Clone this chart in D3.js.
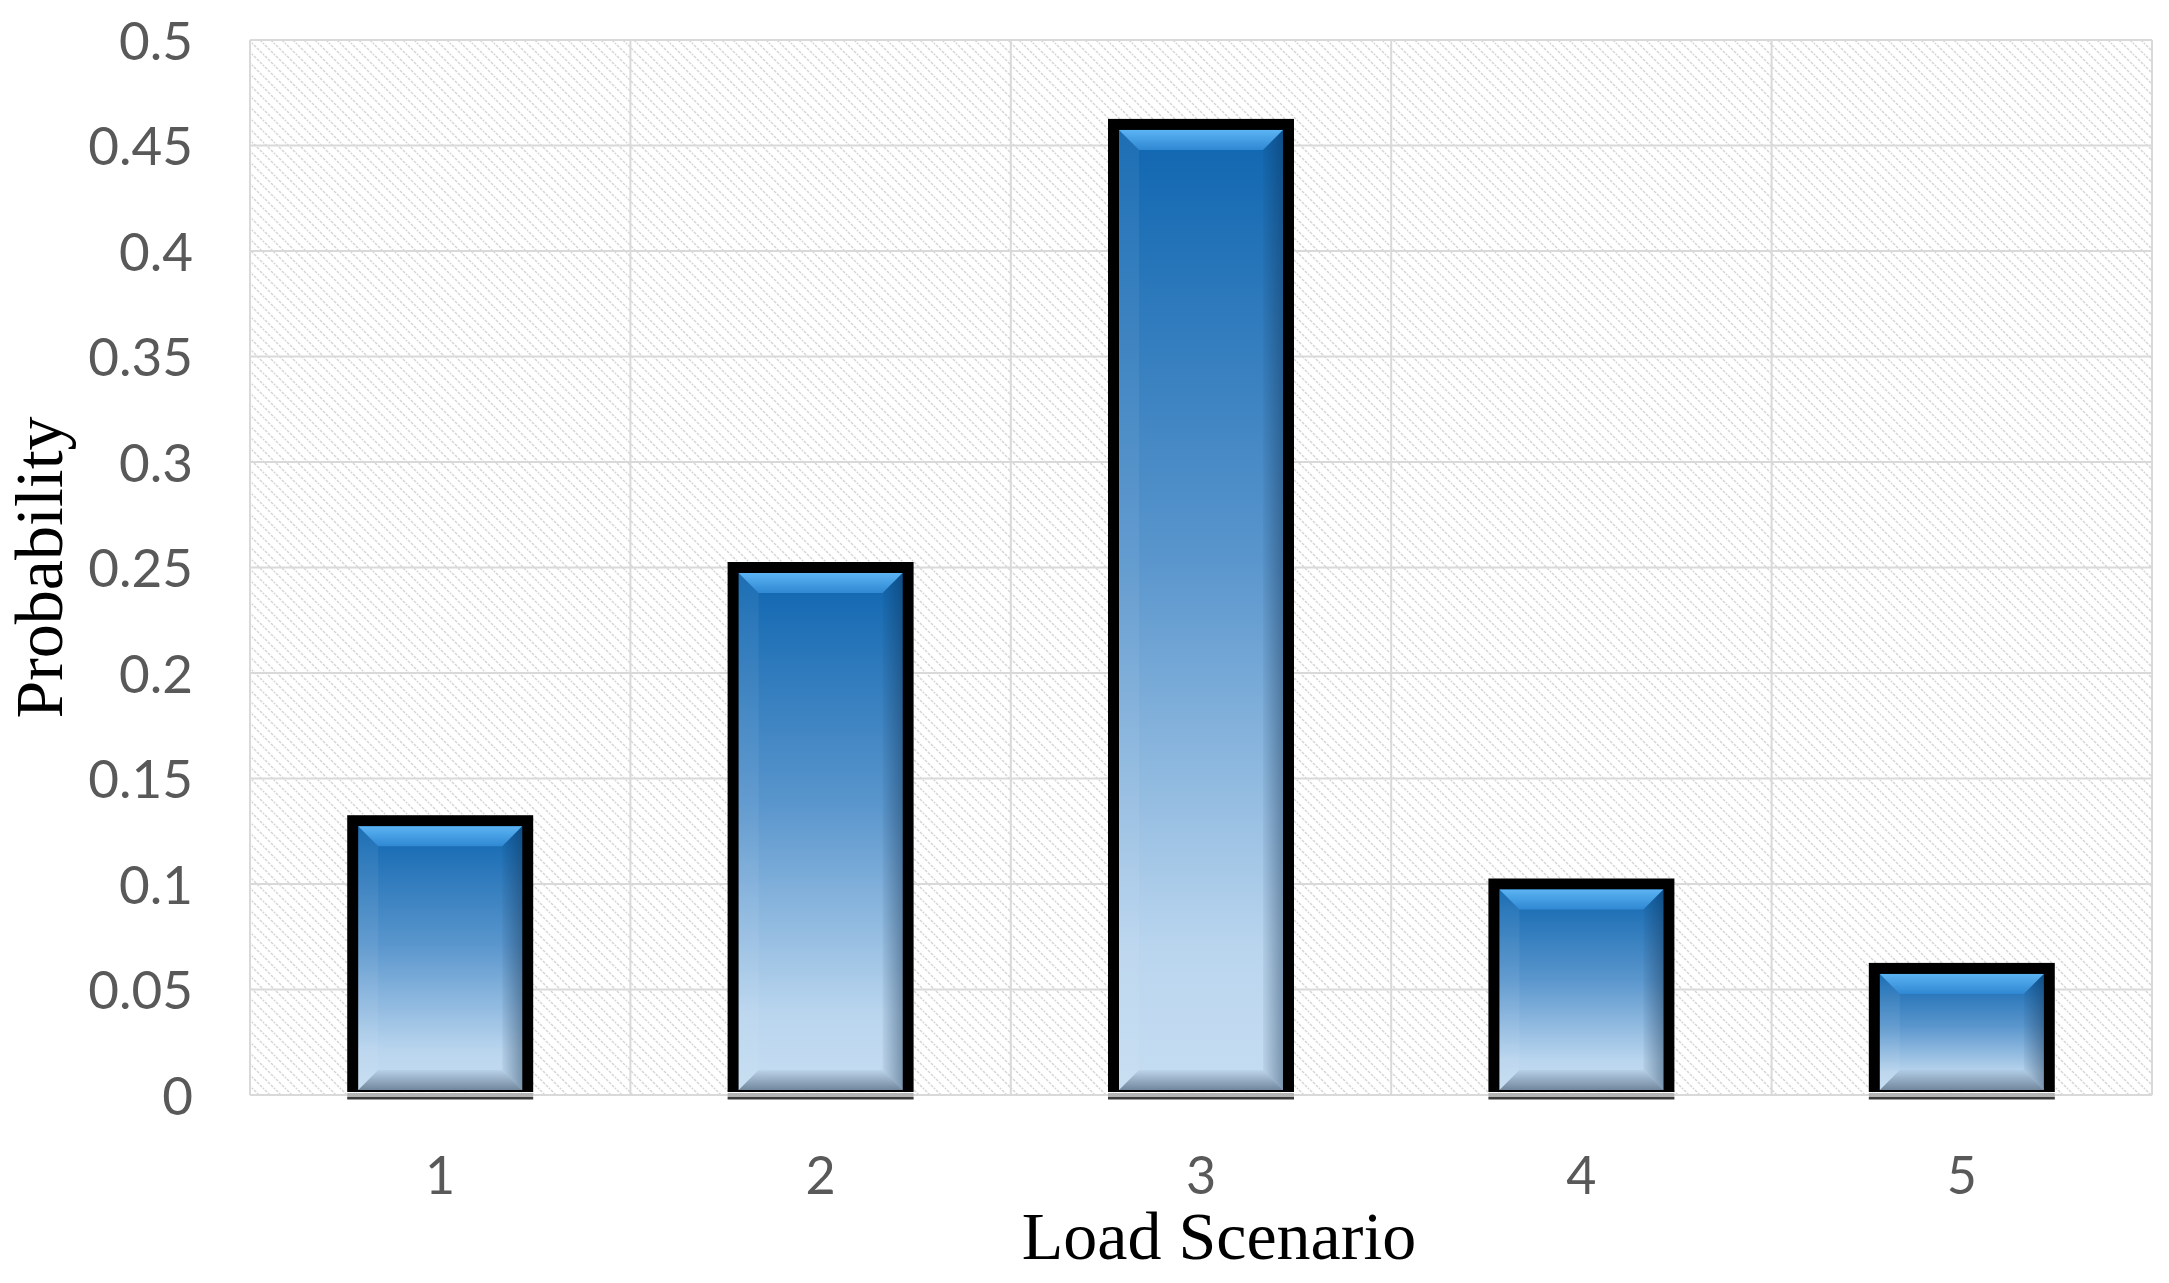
<!DOCTYPE html>
<html>
<head>
<meta charset="utf-8">
<script src="https://cdn.jsdelivr.net/npm/d3@7"></script>
<style>
    body { margin: 0; background: #ffffff; }
    svg { display: block; }
</style>
</head>
<body>
<div id="chart"></div>
<script>
// chart data
const categories = ["1", "2", "3", "4", "5"];
const probabilities = [0.13, 0.25, 0.46, 0.10, 0.06];
const yTickValues = [0, 0.05, 0.1, 0.15, 0.2, 0.25, 0.3, 0.35, 0.4, 0.45, 0.5];
const yTickLabels = ["0", "0.05", "0.1", "0.15", "0.2", "0.25", "0.3", "0.35", "0.4", "0.45", "0.5"];
const xTitle = "Load Scenario";
const yTitle = "Probability";

const width = 2169;
const height = 1283;
const plot = { left: 250, right: 2152, top: 40, bottom: 1095 };

const svg = d3.select("#chart")
    .append("svg")
    .attr("width", width)
    .attr("height", height);

const defs = svg.append("defs");

// hatched background of the plot area
const hatch = defs.append("pattern")
    .attr("id", "hatch")
    .attr("patternUnits", "userSpaceOnUse")
    .attr("width", 11)
    .attr("height", 11);
hatch.append("rect").attr("width", 11).attr("height", 11).attr("fill", "#ffffff");
hatch.append("path")
    .attr("d", "M-2,-2 L13,13 M-2,9 L2,13 M9,-2 L13,2")
    .attr("stroke", "#d6d6d6")
    .attr("stroke-width", 1.5)
    .attr("stroke-dasharray", "3,1.2");

// bar body gradient
const bodyGrad = defs.append("linearGradient")
    .attr("id", "barBody")
    .attr("x1", 0).attr("y1", 0).attr("x2", 0).attr("y2", 1);
bodyGrad.append("stop").attr("offset", "0%").attr("stop-color", "#0f66b0");
bodyGrad.append("stop").attr("offset", "45%").attr("stop-color", "#5a96cd");
bodyGrad.append("stop").attr("offset", "85%").attr("stop-color", "#b9d5ee");
bodyGrad.append("stop").attr("offset", "100%").attr("stop-color", "#c6ddf2");

const topGrad = defs.append("linearGradient")
    .attr("id", "bevelTop")
    .attr("x1", 0).attr("y1", 0).attr("x2", 0).attr("y2", 1);
topGrad.append("stop").attr("offset", "0%").attr("stop-color", "#5cb4f4");
topGrad.append("stop").attr("offset", "100%").attr("stop-color", "#2f88d2");

const rightGrad = defs.append("linearGradient")
    .attr("id", "bevelRight")
    .attr("x1", 0).attr("y1", 0).attr("x2", 1).attr("y2", 0);
rightGrad.append("stop").attr("offset", "0%").attr("stop-color", "#0a2a4a").attr("stop-opacity", 0.05);
rightGrad.append("stop").attr("offset", "100%").attr("stop-color", "#0a2a4a").attr("stop-opacity", 0.4);

const bottomGrad = defs.append("linearGradient")
    .attr("id", "bevelBottom")
    .attr("x1", 0).attr("y1", 0).attr("x2", 0).attr("y2", 1);
bottomGrad.append("stop").attr("offset", "0%").attr("stop-color", "#2a4058").attr("stop-opacity", 0.05);
bottomGrad.append("stop").attr("offset", "100%").attr("stop-color", "#2a4058").attr("stop-opacity", 0.55);

// scales
const x = d3.scaleBand()
    .domain(categories)
    .range([plot.left, plot.right])
    .paddingInner(0.54)
    .paddingOuter(0.27);

const y = d3.scaleLinear()
    .domain([0, 0.5])
    .range([plot.bottom, plot.top]);

// plot area
svg.append("rect")
    .attr("x", plot.left)
    .attr("y", plot.top)
    .attr("width", plot.right - plot.left)
    .attr("height", plot.bottom - plot.top)
    .attr("fill", "url(#hatch)");

// horizontal gridlines
svg.append("g")
    .selectAll("line")
    .data(yTickValues)
    .enter()
    .append("line")
    .attr("x1", plot.left)
    .attr("x2", plot.right)
    .attr("y1", d => y(d))
    .attr("y2", d => y(d))
    .attr("stroke", "#d9d9d9")
    .attr("stroke-width", 2);

// vertical gridlines at category boundaries
const boundaries = categories.map(c => x(c) + x.bandwidth() / 2 - x.step() / 2);
boundaries.push(plot.right);
svg.append("g")
    .selectAll("line")
    .data(boundaries)
    .enter()
    .append("line")
    .attr("x1", d => d)
    .attr("x2", d => d)
    .attr("y1", plot.top)
    .attr("y2", plot.bottom)
    .attr("stroke", "#d9d9d9")
    .attr("stroke-width", 2);

// bars
const bw = x.bandwidth();
const border = 5.5;
const bevel = 20;

const bars = svg.append("g")
    .selectAll("g")
    .data(categories.map((c, i) => ({ cat: c, value: probabilities[i] })))
    .enter()
    .append("g");

// black outline
bars.append("rect")
    .attr("x", d => x(d.cat) - border)
    .attr("y", d => y(d.value) - border)
    .attr("width", bw + 2 * border)
    .attr("height", d => y(0) - 3 - (y(d.value) - border))
    .attr("fill", "#000000");

// shadow line under the bar
bars.append("rect")
    .attr("x", d => x(d.cat) - border)
    .attr("y", y(0) - 2)
    .attr("width", bw + 2 * border)
    .attr("height", 4)
    .attr("fill", "#b4b4b4");
bars.append("rect")
    .attr("x", d => x(d.cat) - border)
    .attr("y", y(0) + 2)
    .attr("width", bw + 2 * border)
    .attr("height", 2.5)
    .attr("fill", "#3a3a3a");

// body
function inner(d) {
    const x0 = x(d.cat) + border;
    const x1 = x(d.cat) + bw - border;
    const y0 = y(d.value) + border;
    const y1 = y(0) - 5;
    return { x0, x1, y0, y1 };
}

bars.append("rect")
    .attr("x", d => inner(d).x0)
    .attr("y", d => inner(d).y0)
    .attr("width", d => inner(d).x1 - inner(d).x0)
    .attr("height", d => inner(d).y1 - inner(d).y0)
    .attr("fill", "url(#barBody)");

// bevel edges
bars.append("path")
    .attr("d", d => {
        const r = inner(d);
        return `M${r.x0},${r.y0} L${r.x1},${r.y0} L${r.x1 - bevel},${r.y0 + bevel} L${r.x0 + bevel},${r.y0 + bevel} Z`;
    })
    .attr("fill", "url(#bevelTop)");

bars.append("path")
    .attr("d", d => {
        const r = inner(d);
        return `M${r.x1},${r.y0} L${r.x1},${r.y1} L${r.x1 - bevel},${r.y1 - bevel} L${r.x1 - bevel},${r.y0 + bevel} Z`;
    })
    .attr("fill", "url(#bevelRight)");

bars.append("path")
    .attr("d", d => {
        const r = inner(d);
        return `M${r.x0},${r.y0} L${r.x0},${r.y1} L${r.x0 + bevel},${r.y1 - bevel} L${r.x0 + bevel},${r.y0 + bevel} Z`;
    })
    .attr("fill", "#ffffff")
    .attr("fill-opacity", 0.06);

bars.append("path")
    .attr("d", d => {
        const r = inner(d);
        return `M${r.x0},${r.y1} L${r.x1},${r.y1} L${r.x1 - bevel},${r.y1 - bevel} L${r.x0 + bevel},${r.y1 - bevel} Z`;
    })
    .attr("fill", "url(#bevelBottom)");

// y axis labels
const yAxis = svg.append("g")
    .attr("transform", `translate(${plot.left},0)`)
    .call(d3.axisLeft(y)
        .tickValues(yTickValues)
        .tickFormat((d, i) => yTickLabels[i])
        .tickSize(0)
        .tickPadding(57));
yAxis.select(".domain").remove();
yAxis.selectAll("text")
    .attr("dy", "0.36em")
    .style("font-family", "Lato, 'Open Sans', sans-serif")
    .style("font-size", "53px")
    .style("fill", "#595959");

// x axis labels
const xAxis = svg.append("g")
    .attr("transform", `translate(0,${plot.bottom})`)
    .call(d3.axisBottom(x).tickSize(0));
xAxis.select(".domain").remove();
xAxis.selectAll("text")
    .attr("y", 99)
    .attr("dy", 0)
    .style("font-family", "Lato, 'Open Sans', sans-serif")
    .style("font-size", "52px")
    .style("fill", "#595959");

// axis titles
svg.append("text")
    .attr("x", 1219)
    .attr("y", 1259)
    .attr("text-anchor", "middle")
    .style("font-family", "'Liberation Serif', 'Times New Roman', serif")
    .style("font-size", "68px")
    .style("fill", "#000000")
    .text(xTitle);

svg.append("text")
    .attr("transform", `translate(62,${(plot.top + plot.bottom) / 2}) rotate(-90)`)
    .attr("text-anchor", "middle")
    .style("font-family", "'Liberation Serif', 'Times New Roman', serif")
    .style("font-size", "68px")
    .style("fill", "#000000")
    .text(yTitle);
</script>
</body>
</html>
